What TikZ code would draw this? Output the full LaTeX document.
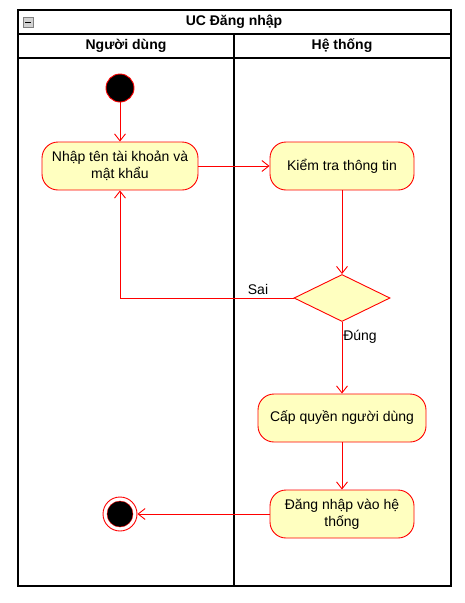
\documentclass[tikz,border=0pt]{standalone}
\usepackage{fontspec}
\setmainfont{Liberation Sans}
\usetikzlibrary{positioning, arrows.meta, shapes.geometric}
\definecolor{cR}{RGB}{255,0,0}
\definecolor{cY}{RGB}{255,255,192}

\begin{document}
\begin{tikzpicture}[x=1pt, y=-1pt, font=\fontsize{14}{17}\selectfont,
    action/.style={draw=cR, fill=cY, line width=0.9pt, rounded corners=16pt, align=center, minimum height=48pt, inner sep=2pt},
    flow/.style={draw=cR, line width=0.9pt, -{Straight Barb[length=7pt, width=11pt]}},
    hdr/.style={font=\fontsize{14}{17}\selectfont\bfseries}]
    \useasboundingbox (0,0) rectangle (465,603);

    % Frame and swimlanes
    \draw[line width=1.1pt] (18,10) rectangle (451,586);
    \draw[line width=1.1pt] (18,34) -- (451,34);
    \draw[line width=1.1pt] (18,58) -- (451,58);
    \draw[line width=1.1pt] (234,34) -- (234,586);
    \draw[draw=gray, fill=gray!35] (23,17) rectangle (33,27);
    \draw[thick] (25,22) -- (31,22);
    \node[hdr] (title) at (234,22) {UC Đăng nhập};
    \node[hdr] (lane1) at (126,46) {Người dùng};
    \node[hdr] (lane2) at (342,46) {Hệ thống};

    % Start and end
    \node[circle, draw=cR, line width=0.9pt, fill=black, minimum size=28pt, inner sep=0pt] (start) at (120,88) {};
    \node[circle, draw=cR, line width=0.9pt, fill=white, minimum size=34pt, inner sep=0pt] (stop) at (120,514) {};
    \node[circle, draw=cR, fill=black, minimum size=26pt, inner sep=0pt] at (120,514) {};

    % Actions
    \node[action, minimum width=156pt] (input) at (120,166) {Nhập tên tài khoản và\\mật khẩu};
    \node[action, minimum width=144pt] (check) at (342,166) {Kiểm tra thông tin};
    \node[diamond, draw=cR, line width=0.9pt, fill=cY, aspect=2, minimum width=96pt, minimum height=47pt, inner sep=0pt] (valid) at (342,298) {};
    \node[action, minimum width=168pt] (grant) at (342,418) {Cấp quyền người dùng};
    \node[action, minimum width=144pt] (login) at (342,514) {Đăng nhập vào hệ\\thống};

    % Flows
    \draw[flow] (start) -- (input);
    \draw[flow] (input) -- (check);
    \draw[flow] (check) -- (valid);
    \draw[flow] (valid.west) -| (input.south);
    \draw[flow] (valid) -- (grant);
    \draw[flow] (grant) -- (login);
    \draw[flow] (login) -- (stop);

    % Guards
    \node (sai) at (258,289) {Sai};
    \node (dung) at (360,337) {Đúng};
\end{tikzpicture}
\end{document}
